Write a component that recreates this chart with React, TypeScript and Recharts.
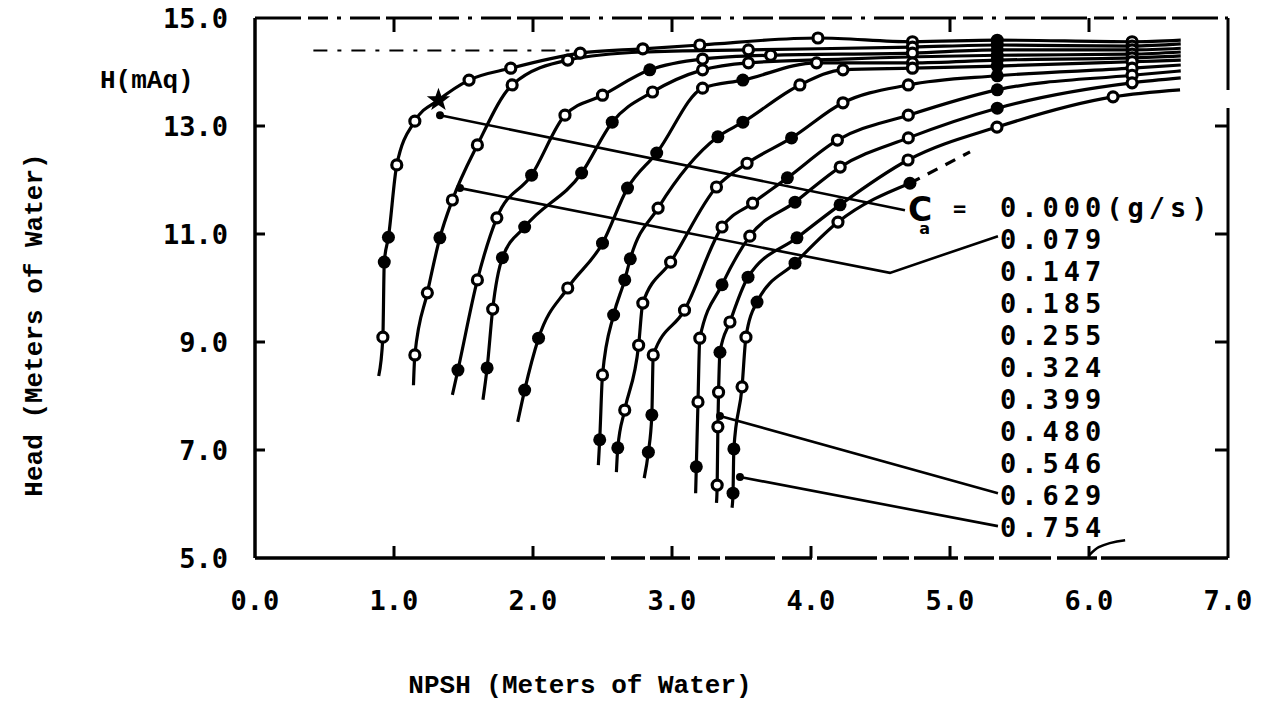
import React from 'react';
import { LineChart, Line, XAxis, YAxis, Customized } from 'recharts';

// [NPSH (m), Head (m), marker kind]  o = open, f = filled, s = star, '' = none
type Pt = [number, number, string];

const ca000: Pt[] = [
  [0.89, 8.37, ''], [0.92, 9.09, 'o'], [0.93, 10.48, 'f'], [0.96, 10.94, 'f'], [1.02, 12.28, 'o'],
  [1.15, 13.09, 'o'], [1.32, 13.48, 's'], [1.54, 13.85, 'o'], [1.84, 14.07, 'o'], [2.34, 14.35, 'o'],
  [2.79, 14.43, 'o'], [3.2, 14.5, 'o'], [4.05, 14.63, 'o'], [4.73, 14.56, 'o'], [5.34, 14.59, 'f'],
  [6.31, 14.56, 'o'], [6.66, 14.59, ''],
];
const ca079: Pt[] = [
  [1.14, 8.2, ''], [1.15, 8.76, 'o'], [1.24, 9.91, 'o'], [1.33, 10.93, 'f'], [1.42, 11.63, 'o'],
  [1.6, 12.65, 'o'], [1.85, 13.76, 'o'], [2.25, 14.22, 'o'], [2.79, 14.37, ''], [3.55, 14.41, 'o'],
  [4.73, 14.46, 'o'], [5.34, 14.5, 'f'], [6.31, 14.48, 'o'], [6.66, 14.52, ''],
];
const ca147: Pt[] = [
  [1.42, 8.02, ''], [1.46, 8.48, 'f'], [1.6, 10.15, 'o'], [1.74, 11.3, 'o'], [1.99, 12.09, 'f'],
  [2.23, 13.2, 'o'], [2.5, 13.57, 'o'], [2.84, 14.04, 'f'], [3.22, 14.24, 'o'], [3.71, 14.31, 'o'],
  [4.73, 14.35, 'o'], [5.34, 14.41, 'f'], [6.31, 14.41, 'o'], [6.66, 14.44, ''],
];
const ca185: Pt[] = [
  [1.64, 7.93, ''], [1.67, 8.52, 'f'], [1.71, 9.61, 'o'], [1.78, 10.56, 'f'], [1.94, 11.13, 'f'],
  [2.35, 12.13, 'f'], [2.57, 13.07, 'f'], [2.86, 13.63, 'o'], [3.22, 14.04, 'o'], [3.55, 14.17, 'o'],
  [4.23, 14.24, ''], [5.34, 14.31, 'f'], [6.31, 14.33, 'o'], [6.66, 14.37, ''],
];
const ca255: Pt[] = [
  [1.89, 7.52, ''], [1.94, 8.11, 'f'], [2.04, 9.07, 'f'], [2.25, 10.0, 'o'], [2.5, 10.83, 'f'],
  [2.68, 11.85, 'f'], [2.89, 12.5, 'f'], [3.22, 13.7, 'o'], [3.51, 13.85, 'f'], [4.04, 14.17, 'o'],
  [4.73, 14.17, 'o'], [5.34, 14.22, 'f'], [6.31, 14.26, 'o'], [6.66, 14.3, ''],
];
const ca324: Pt[] = [
  [2.47, 6.72, ''], [2.48, 7.19, 'f'], [2.5, 8.39, 'o'], [2.58, 9.5, 'f'], [2.66, 10.15, 'f'],
  [2.7, 10.54, 'f'], [2.9, 11.48, 'o'], [3.33, 12.8, 'f'], [3.51, 13.07, 'f'], [3.92, 13.76, 'o'],
  [4.23, 14.04, 'o'], [4.73, 14.07, 'o'], [5.34, 14.11, 'f'], [6.31, 14.19, 'o'], [6.66, 14.22, ''],
];
const ca399: Pt[] = [
  [2.6, 6.59, ''], [2.61, 7.04, 'f'], [2.66, 7.74, 'o'], [2.76, 8.94, 'o'], [2.79, 9.72, 'o'],
  [2.99, 10.48, 'o'], [3.32, 11.87, 'o'], [3.54, 12.31, 'o'], [3.86, 12.78, 'f'], [4.23, 13.43, 'o'],
  [4.7, 13.76, 'o'], [5.34, 13.93, 'f'], [6.31, 14.07, 'o'], [6.66, 14.13, ''],
];
const ca480: Pt[] = [
  [2.8, 6.48, ''], [2.83, 6.96, 'f'], [2.855, 7.65, 'f'], [2.865, 8.76, 'o'], [3.09, 9.59, 'o'],
  [3.36, 11.13, 'o'], [3.58, 11.57, 'o'], [3.83, 12.04, 'f'], [4.19, 12.74, 'o'], [4.7, 13.2, 'o'],
  [5.34, 13.67, 'f'], [6.31, 13.94, 'o'], [6.66, 14.02, ''],
];
const ca546: Pt[] = [
  [3.17, 6.2, ''], [3.175, 6.69, 'f'], [3.187, 7.89, 'o'], [3.2, 9.07, 'o'], [3.36, 10.06, 'f'],
  [3.56, 10.96, 'o'], [3.885, 11.59, 'f'], [4.21, 12.24, 'o'], [4.7, 12.78, 'o'], [5.34, 13.33, 'f'],
  [6.31, 13.8, 'o'], [6.66, 13.89, ''],
];
const ca629: Pt[] = [
  [3.32, 6.02, ''], [3.325, 6.35, 'o'], [3.33, 7.43, 'o'], [3.335, 8.07, 'o'], [3.345, 8.81, 'f'],
  [3.417, 9.37, 'o'], [3.547, 10.2, 'f'], [3.899, 10.93, 'f'], [4.209, 11.54, 'f'], [4.698, 12.37, 'o'],
  [5.338, 12.98, 'o'], [6.173, 13.54, 'o'], [6.655, 13.67, ''],
];
const ca754: Pt[] = [
  [3.432, 5.93, ''], [3.439, 6.2, 'f'], [3.445, 7.02, 'f'], [3.504, 8.17, 'o'], [3.532, 9.09, 'o'],
  [3.612, 9.74, 'f'], [3.885, 10.46, 'f'], [4.194, 11.22, 'o'], [4.712, 11.94, 'f'],
];
const ca754Dashed: Pt[] = [[4.712, 11.94, ''], [5.144, 12.52, '']];

// leader lines from the labels to the curves (first point carries the arrow dot)
const leader000: Pt[] = [[1.331, 13.2, 'a'], [4.676, 11.44, '']];
const leader079: Pt[] = [[1.475, 11.85, 'a'], [4.568, 10.28, ''], [5.345, 10.96, '']];
const leader629: Pt[] = [[3.345, 7.63, 'a'], [5.345, 6.2, '']];
const leader754: Pt[] = [[3.489, 6.5, 'a'], [5.345, 5.59, '']];
const leader754Curl: Pt[] = [[6.0, 5.05, ''], [6.07, 5.2, ''], [6.26, 5.33, '']];

// dashed reference level near the top
const refLevel: Pt[] = [[0.42, 14.4, ''], [2.3, 14.4, '']];

const seriesValues = ['0.000', '0.079', '0.147', '0.185', '0.255', '0.324', '0.399', '0.480', '0.546', '0.629', '0.754'];
const xTicks = [0, 1, 2, 3, 4, 5, 6, 7];
const xTopTicks = [1, 2, 3, 5, 6];
const yTicks = [5, 7, 9, 11, 13, 15];

const curves: Pt[][] = [ca000, ca079, ca147, ca185, ca255, ca324, ca399, ca480, ca546, ca629, ca754];

const rows = (pts: Pt[]) => pts.map(([x, h, k]) => ({ x, h, k }));

const tickFont: React.CSSProperties = {
  fontFamily: "'DejaVu Sans Mono', monospace",
  fontWeight: 700,
  fontSize: 27,
  fill: '#000',
};
const titleFont: React.CSSProperties = {
  fontFamily: "'Liberation Mono', 'DejaVu Sans Mono', monospace",
  fontWeight: 700,
  fontSize: 26,
  fill: '#000',
};
const legendFont: React.CSSProperties = {
  fontFamily: "'DejaVu Sans Mono', monospace",
  fontWeight: 700,
  fontSize: 27,
  letterSpacing: 5,
  fill: '#000',
};

const BOTTOM_GAP = 42;
const LEFT_GAP = 27;

const starPath = (cx: number, cy: number, R: number, r: number) => {
  let d = '';
  for (let i = 0; i < 10; i++) {
    const a = -Math.PI / 2 + (i * Math.PI) / 5;
    const rad = i % 2 === 0 ? R : r;
    d += (i === 0 ? 'M' : 'L') + (cx + rad * Math.cos(a)).toFixed(2) + ',' + (cy + rad * Math.sin(a)).toFixed(2);
  }
  return d + 'Z';
};

const Marker = (props: any) => {
  const { cx, cy, payload, index } = props;
  const key = `m-${index}`;
  if (cx == null || cy == null || !payload) return <g key={key} />;
  const k = payload.k;
  if (k === 'o') return <circle key={key} cx={cx} cy={cy} r={5} fill="#fff" stroke="#000" strokeWidth={3.2} />;
  if (k === 'f') return <circle key={key} cx={cx} cy={cy} r={6.5} fill="#000" />;
  if (k === 's') return <path key={key} d={starPath(cx, cy, 10, 4)} fill="#000" stroke="#000" strokeWidth={1.5} />;
  if (k === 'a') return <circle key={key} cx={cx} cy={cy} r={4} fill="#000" />;
  return <g key={key} />;
};

const BottomTick = (p: any) => {
  const { x, y, payload } = p;
  const v = payload.value as number;
  const axisY = y - BOTTOM_GAP;
  return (
    <g>
      {v > 0 && v < 7 && <line x1={x} x2={x} y1={axisY} y2={axisY - 12} stroke="#000" strokeWidth={3} />}
      <text x={x} y={y} dy="0.36em" textAnchor="middle" style={tickFont}>{v.toFixed(1)}</text>
    </g>
  );
};

const TopTick = (p: any) => {
  const { x, y } = p;
  return <line x1={x} x2={x} y1={y} y2={y + 14} stroke="#000" strokeWidth={3} />;
};

const LeftTick = (p: any) => {
  const { x, y, payload } = p;
  const v = payload.value as number;
  const axisX = x + LEFT_GAP;
  return (
    <g>
      {v > 5 && v < 15 && <line x1={axisX} x2={axisX + 10} y1={y} y2={y} stroke="#000" strokeWidth={3} />}
      <text x={x} y={y} dy="0.36em" textAnchor="end" style={tickFont}>{v.toFixed(1)}</text>
    </g>
  );
};

const RightTick = (p: any) => {
  const { x, y, payload } = p;
  const v = payload.value as number;
  if (v <= 5 || v >= 15) return <g />;
  return <line x1={x} x2={x - 13} y1={y} y2={y} stroke="#000" strokeWidth={3} />;
};

const Annotations = () => {
  return (
    <g>
      <text x={100} y={88} style={titleFont}>H(mAq)</text>
      <text x={580} y={693} textAnchor="middle" style={titleFont}>NPSH (Meters of Water)</text>
      <text
        x={35}
        y={325}
        textAnchor="middle"
        dominantBaseline="central"
        transform="rotate(-90 35 325)"
        style={titleFont}
      >
        Head (Meters of Water)
      </text>
      <text x={908} y={221} style={{ ...legendFont, letterSpacing: 0, fontFamily: "'DejaVu Sans', sans-serif", fontSize: 33 }}>
        C<tspan dx={-13} dy={13} style={{ fontSize: 16 }}>a</tspan>
      </text>
      <text x={953} y={216} style={{ ...legendFont, letterSpacing: 0, fontSize: 22 }}>=</text>
      <text x={1000} y={217} style={legendFont}>{seriesValues[0]}(g/s)</text>
      {seriesValues.slice(1).map((s, i) => (
        <text key={s} x={1000} y={249 + 32 * i} style={legendFont}>{s}</text>
      ))}
    </g>
  );
};

export default function App() {
  return (
    <div style={{ position: 'absolute', left: 0, top: 0, width: 1266, height: 701, background: '#fff' }}>
      <LineChart width={1266} height={701} margin={{ top: 8, right: 28, bottom: 83, left: 175 }}>
        <XAxis
          xAxisId="b"
          dataKey="x"
          type="number"
          domain={[0, 7]}
          ticks={xTicks}
          interval={0}
          allowDataOverflow
          height={60}
          tickSize={0}
          tickMargin={BOTTOM_GAP}
          tickLine={false}
          axisLine={{
            stroke: '#000',
            strokeWidth: 3.5,
            strokeDasharray: '350 6 34 5 40 8 22 5 50 7 30 5 60 6 26 5 44 6 30 5 52 6 40 4 300',
          }}
          tick={<BottomTick />}
        />
        <XAxis
          xAxisId="t"
          orientation="top"
          dataKey="x"
          type="number"
          domain={[0, 7]}
          ticks={xTopTicks}
          interval={0}
          allowDataOverflow
          height={10}
          tickSize={0}
          tickMargin={0}
          tickLine={false}
          axisLine={{ stroke: '#000', strokeWidth: 3, strokeDasharray: '46 7 20 9 4 9 30 6' }}
          tick={<TopTick />}
        />
        <YAxis
          yAxisId="l"
          dataKey="h"
          type="number"
          domain={[5, 15]}
          ticks={yTicks}
          interval={0}
          allowDataOverflow
          width={80}
          tickSize={0}
          tickMargin={LEFT_GAP}
          tickLine={false}
          axisLine={{ stroke: '#000', strokeWidth: 3.5 }}
          tick={<LeftTick />}
        />
        <YAxis
          yAxisId="r"
          orientation="right"
          dataKey="h"
          type="number"
          domain={[5, 15]}
          ticks={yTicks}
          interval={0}
          allowDataOverflow
          width={10}
          tickSize={0}
          tickMargin={0}
          tickLine={false}
          axisLine={{ stroke: '#000', strokeWidth: 3, strokeDasharray: '72 18 1000' }}
          tick={<RightTick />}
        />
        <Line
          xAxisId="b"
          yAxisId="l"
          data={rows(refLevel)}
          dataKey="h"
          type="linear"
          stroke="#000"
          strokeWidth={2}
          strokeDasharray="14 10 4 10"
          dot={false}
          activeDot={false}
          isAnimationActive={false}
        />
        {curves.map((c, i) => (
          <Line
            key={seriesValues[i]}
            xAxisId="b"
            yAxisId="l"
            data={rows(c)}
            dataKey="h"
            name={seriesValues[i]}
            type="monotoneX"
            stroke="#000"
            strokeWidth={3.2}
            dot={<Marker />}
            activeDot={false}
            isAnimationActive={false}
          />
        ))}
        <Line
          xAxisId="b"
          yAxisId="l"
          data={rows(ca754Dashed)}
          dataKey="h"
          type="linear"
          stroke="#000"
          strokeWidth={3.2}
          strokeDasharray="11 9"
          dot={false}
          activeDot={false}
          isAnimationActive={false}
        />
        {[leader000, leader079, leader629, leader754, leader754Curl].map((l, i) => (
          <Line
            key={`leader-${i}`}
            xAxisId="b"
            yAxisId="l"
            data={rows(l)}
            dataKey="h"
            type={i === 4 ? 'monotoneX' : 'linear'}
            stroke="#000"
            strokeWidth={2.6}
            dot={<Marker />}
            activeDot={false}
            isAnimationActive={false}
          />
        ))}
        <Customized component={<Annotations />} />
      </LineChart>
    </div>
  );
}
